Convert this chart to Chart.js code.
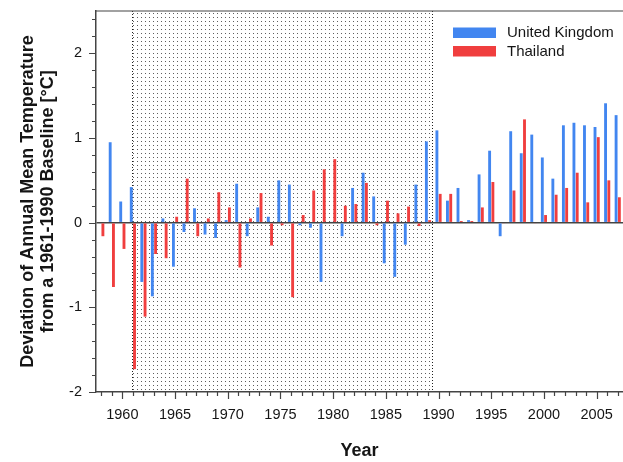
<!DOCTYPE html>
<html><head><meta charset="utf-8">
<script src="https://cdn.jsdelivr.net/npm/chart.js@4.4.1/dist/chart.umd.min.js"></script>
<style>html,body{margin:0;padding:0;background:#fff;overflow:hidden}#wrap{width:623px;height:462px}</style>
</head><body><div id="wrap"><canvas id="c" width="623" height="462"></canvas></div>
<script>
const years = ['1958','1959','1960','1961','1962','1963','1964','1965','1966','1967','1968','1969','1970','1971','1972','1973','1974','1975','1976','1977','1978','1979','1980','1981','1982','1983','1984','1985','1986','1987','1988','1989','1990','1991','1992','1993','1994','1995','1996','1997','1998','1999','2000','2001','2002','2003','2004','2005','2006','2007'];
const ukValues = [null,0.95,0.25,0.42,-0.70,-0.87,0.05,-0.52,-0.11,0.17,-0.14,-0.18,0.03,0.46,-0.16,0.18,0.07,0.50,0.45,-0.03,-0.06,-0.70,0.01,-0.16,0.41,0.59,0.31,-0.48,-0.64,-0.26,0.45,0.96,1.09,0.26,0.41,0.03,0.57,0.85,-0.16,1.08,0.82,1.04,0.77,0.52,1.15,1.18,1.15,1.13,1.41,1.27];
const thValues = [-0.16,-0.76,-0.31,-1.73,-1.11,-0.37,-0.42,0.07,0.52,-0.16,0.05,0.36,0.18,-0.53,0.05,0.35,-0.27,-0.03,-0.88,0.09,0.38,0.63,0.75,0.20,0.22,0.47,-0.03,0.26,0.11,0.19,-0.04,0.03,0.34,0.34,0.02,0.02,0.18,0.48,-0.01,0.38,1.22,-0.01,0.09,0.33,0.41,0.59,0.24,1.01,0.50,0.30];
const seriesNames = ['United Kingdom','Thailand'];
const yTickValues = [-2,-1,0,1,2];
const baselineFirst = '1961';
const baselineLast = '1989';

const FONT = "'Liberation Sans', Arial, Helvetica, sans-serif";
const TXT = '#151515';

const shadePlugin = {
  id: 'shade',
  beforeDraw(chart) {
    const {ctx, chartArea: a, scales: {x}} = chart;
    const cw = x.getPixelForValue(1) - x.getPixelForValue(0);
    const l = x.getPixelForValue(years.indexOf(baselineFirst)) - 0.1 * cw;
    const r = x.getPixelForValue(years.indexOf(baselineLast)) + 0.4 * cw;
    const t = document.createElement('canvas'); t.width = 4; t.height = 4;
    const tc = t.getContext('2d'); tc.fillStyle = '#5e5e5e'; tc.fillRect(1, 1, 1, 1);
    ctx.save();
    ctx.fillStyle = ctx.createPattern(t, 'repeat');
    ctx.fillRect(l, a.top, r - l, a.bottom - a.top);
    ctx.strokeStyle = '#222'; ctx.lineWidth = 1; ctx.setLineDash([1, 2]);
    ctx.beginPath();
    ctx.moveTo(Math.round(l) + 0.5, a.top); ctx.lineTo(Math.round(l) + 0.5, a.bottom);
    ctx.moveTo(Math.round(r) + 0.5, a.top); ctx.lineTo(Math.round(r) + 0.5, a.bottom);
    ctx.stroke();
    ctx.restore();
  }
};

const decoPlugin = {
  id: 'deco',
  afterDraw(chart) {
    const {ctx, chartArea: a, scales: {x, y}} = chart;
    ctx.save();
    ctx.strokeStyle = '#444'; ctx.lineWidth = 1.2;
    ctx.beginPath();
    ctx.moveTo(a.left, a.top); ctx.lineTo(a.right, a.top);
    for (let i = Math.round(y.min * 5); i <= Math.round(y.max * 5); i++) {
      const v = i / 5;
      if (v >= y.max) continue;
      const py = Math.round(y.getPixelForValue(v)) + 0.5;
      const len = (i % 5 === 0) ? 7 : 4;
      ctx.moveTo(a.left - len, py); ctx.lineTo(a.left, py);
    }
    years.forEach((yr, i) => {
      const px = Math.round(x.getPixelForValue(i)) + 0.5;
      const len = (+yr % 5 === 0) ? 7 : 4;
      ctx.moveTo(px, a.bottom); ctx.lineTo(px, a.bottom + len);
    });
    ctx.stroke();
    const ds = chart.data.datasets;
    ctx.font = '15px ' + FONT;
    ctx.textBaseline = 'middle'; ctx.textAlign = 'left';
    ds.forEach((d, i) => {
      const bx = a.right - 170, by = a.top + 16.5 + i * 18.5;
      ctx.fillStyle = d.backgroundColor;
      ctx.fillRect(bx, by, 43, 10.5);
      ctx.fillStyle = TXT;
      ctx.fillText(d.label, bx + 54, by + 5.5);
    });
    ctx.restore();
  }
};

new Chart(document.getElementById('c'), {
  type: 'bar',
  data: {
    labels: years,
    datasets: [
      {label: seriesNames[0], data: ukValues, backgroundColor: '#4286f0', borderWidth: 0, categoryPercentage: 0.62, barPercentage: 0.88},
      {label: seriesNames[1], data: thValues, backgroundColor: '#f03e3e', borderWidth: 0, categoryPercentage: 0.62, barPercentage: 0.88}
    ]
  },
  options: {
    responsive: false,
    animation: false,
    layout: {padding: {top: 11, right: 0, left: 0, bottom: 0}},
    plugins: {legend: {display: false}, tooltip: {enabled: false}},
    scales: {
      x: {
        type: 'category', offset: true,
        grid: {display: false, drawTicks: false},
        border: {display: true, color: '#444', width: 1.5},
        ticks: {
          autoSkip: false, maxRotation: 0, minRotation: 0, padding: 14, color: TXT,
          font: {family: FONT, size: 14.5},
          callback: function (v) { const l = this.getLabelForValue(v); return (+l % 5 === 0) ? l : ''; }
        },
        title: {display: true, text: 'Year', color: TXT, font: {family: FONT, size: 18, weight: 'bold'}, padding: {top: 0, bottom: 0}},
        afterFit: s => { s.height = 70; s.paddingLeft = 0; s.paddingRight = 0; }
      },
      y: {
        min: -2, max: 2.5,
        grid: {drawTicks: false, lineWidth: 1.5, color: c => (c.tick && c.tick.value === 0) ? '#444' : 'rgba(0,0,0,0)'},
        border: {display: true, color: '#444', width: 1.5},
        ticks: {
          stepSize: 1, includeBounds: false, padding: 14, color: TXT,
          font: {family: FONT, size: 14.5},
          callback: v => yTickValues.includes(v) ? String(v) : ''
        },
        title: {display: true, text: ['Deviation of Annual Mean Temperature', 'from a 1961-1990 Baseline [°C]'], color: TXT,
          font: {family: FONT, size: 18, weight: 'bold', lineHeight: 1.1}, padding: {top: 18, bottom: 0}},
        afterFit: s => { s.width = 96; s.paddingTop = 0; s.paddingBottom = 0; }
      }
    }
  },
  plugins: [shadePlugin, decoPlugin]
});
</script>
</body></html>
